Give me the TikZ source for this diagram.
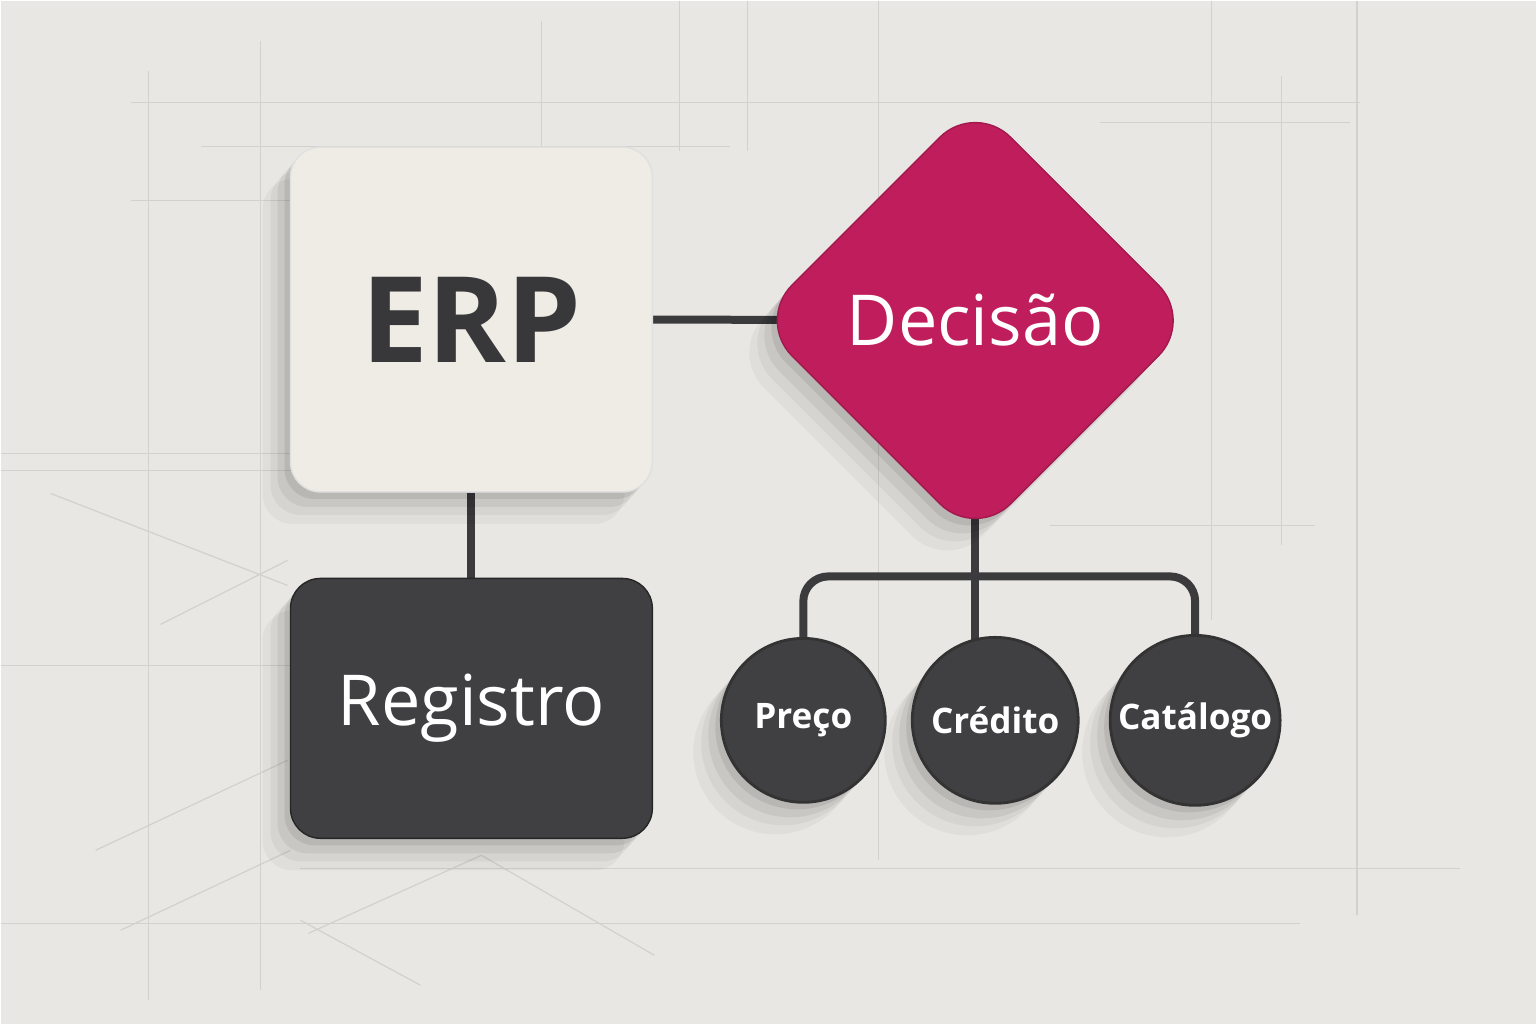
\documentclass[tikz,border=0pt]{standalone}
\usepackage{fontspec}
\setmainfont{Open Sans}
\usepackage{tikz}
\usetikzlibrary{calc,positioning,shapes.geometric,shadows}
\definecolor{my_paper}{HTML}{E8E7E4}
\definecolor{my_grid}{HTML}{D2D1CE}
\definecolor{my_cream}{HTML}{EFECE6}
\definecolor{my_dark}{HTML}{404042}
\definecolor{my_ink}{HTML}{38383A}
\definecolor{my_magenta}{HTML}{BF1D5B}
\definecolor{my_line}{HTML}{3B3B3D}
\pgfdeclarelayer{background}
\pgfsetlayers{background,main}
\tikzset{
  blocknode/.style = {align=center, inner sep=0pt, text centered,
  general shadow={shadow xshift=-2.8mm, shadow yshift=-3.2mm, fill=black, opacity=.035},
  general shadow={shadow xshift=-2mm, shadow yshift=-2.3mm, fill=black, opacity=.045},
  general shadow={shadow xshift=-1.3mm, shadow yshift=-1.5mm, fill=black, opacity=.06},
  general shadow={shadow xshift=-.6mm, shadow yshift=-.7mm, fill=black, opacity=.08}},
  box_n/.style = {blocknode, rectangle, rounded corners=3mm, minimum width=36.2mm},
  dec_n/.style = {blocknode, diamond, aspect=1, rounded corners=5mm, minimum width=43.8mm,
  minimum height=43.8mm},
  leaf_n/.style = {blocknode, circle, minimum size=16.6mm, fill=my_dark, draw=black!80,
  line width=0.8pt, text=white, font=\fontsize{10}{12}\selectfont\bfseries}
}

\begin{document}
\begin{tikzpicture}[x=0.1mm,y=-0.1mm,
        link/.style={draw=my_line, line width=0.8mm},
        sketch/.style={draw=my_grid, line width=0.35pt}]
        \node [box_n, minimum height=34.5mm, fill=my_cream, draw=black!12, text=my_ink,
          font=\fontsize{34}{34}\selectfont\bfseries] (erp) at (471,319) {ERP};
        \node [box_n, minimum height=26mm, fill=my_dark, draw=black!85, text=white,
          font=\fontsize{20}{24}\selectfont] (reg) at (471,708) {Registro};
        \node [dec_n, fill=my_magenta, draw=my_magenta!85!black, text=white,
          font=\fontsize{20}{24}\selectfont] (dec) at (975,320) {Decisão};
        \node [leaf_n, minimum size=16.4mm] (pre) at (803,720) {Preço};
        \node [leaf_n] (cre) at (995,720) {Crédito};
        \node [leaf_n, minimum size=17mm] (cat) at (1195,720) {Catálogo};
        \coordinate (bar) at (975,576);
        \begin{pgfonlayer}{background}
          \fill [my_paper] (0,0) rectangle (1536,1024);
          % drafting lines
          \foreach \x/\a/\b in {148/70/1000, 260/40/990, 541/20/150, 679/0/150, 747/0/150,
            878/0/860, 1211/0/620, 1281/75/545, 1357/0/915}
            \draw [sketch] (\x,\a) -- (\x,\b);
          \foreach \y/\a/\b in {102/130/1360, 122/1100/1350, 146/200/730, 200/130/290,
            453/0/290, 470/0/290, 525/1050/1315, 665/0/290, 868/300/1460, 923/0/1300}
            \draw [sketch] (\a,\y) -- (\b,\y);
          \draw [sketch] (50,493) -- (287,585);
          \draw [sketch] (160,624) -- (287,560);
          \draw [sketch] (95,850) -- (287,760);
          \draw [sketch] (120,930) -- (290,850);
          \draw [sketch] (308,933) -- (481,855) -- (654,955);
          \draw [sketch] (300,920) -- (420,985);
          % connectors
          \draw [link] (erp.east) -- (dec.center);
          \draw [link] (erp.south) -- (reg.north);
          \draw [link] (dec.center) -- (dec.center |- cre.center);
          \draw [link, rounded corners=2.5mm] (pre.center) |- (bar) -| (cat.center);
        \end{pgfonlayer}
\end{tikzpicture}
\end{document}
